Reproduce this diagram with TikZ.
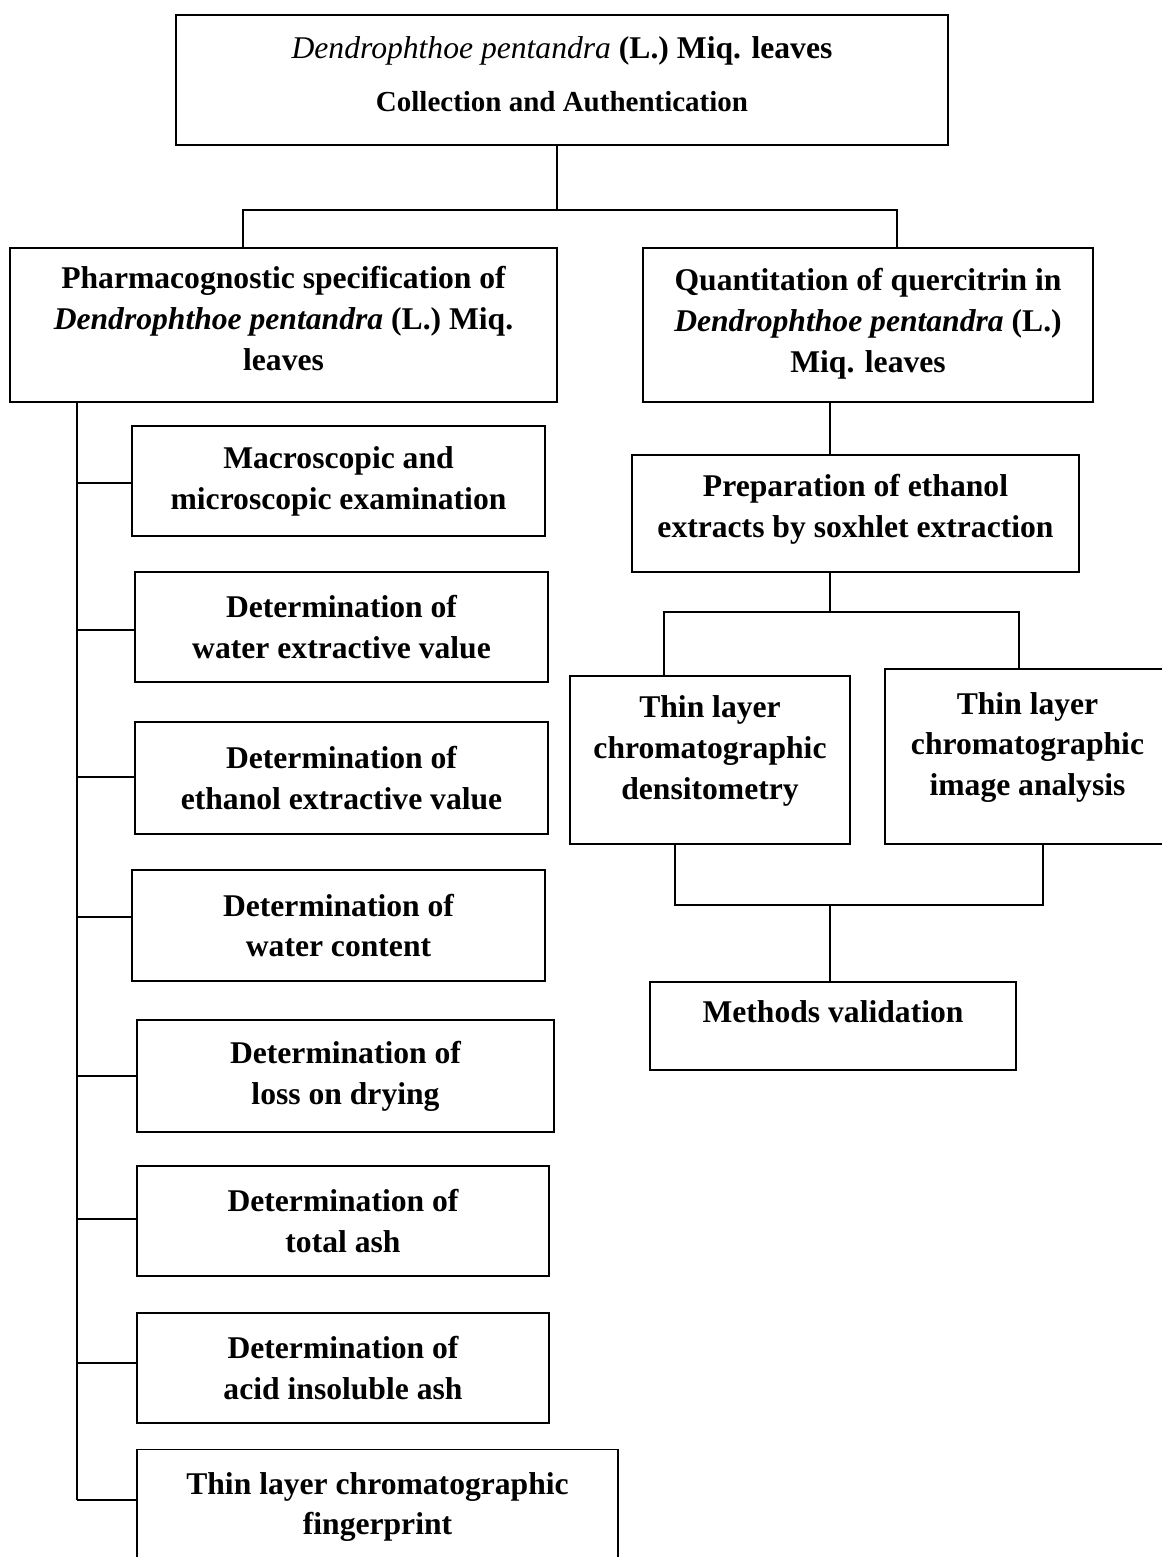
\documentclass[tikz,border=0pt]{standalone}
\usepackage{fontspec}
\setmainfont{Liberation Serif}
\usetikzlibrary{positioning,calc}

\begin{document}
\begin{tikzpicture}[
    x=0.02cm, y=-0.02cm,
    box/.style={rectangle, draw, line width=1.1pt, inner sep=0pt, align=center, font=\fontsize{18}{23.3}\selectfont\bfseries},
    testbox/.style={box, minimum width=8.26cm, minimum height=2.2cm},
    link/.style={line width=1.1pt},
]
    \useasboundingbox (0,0) rectangle (1161,1557);

    % top and the two branches
    \node[box, minimum width=15.44cm, minimum height=2.6cm, text depth=0.24cm] (source) at (562,80) {{\mdseries\itshape Dendrophthoe pentandra} (L.) Miq. leaves\\[6.6pt] {\fontsize{16.5}{20}\selectfont Collection and Authentication}};
    \node[box, minimum width=10.94cm, minimum height=3.08cm, text depth=0.28cm] (pharma) at (283.5,325) {Pharmacognostic specification of\\ \textit{Dendrophthoe pentandra} (L.) Miq.\\ leaves};
    \node[box, minimum width=9cm, minimum height=3.08cm, text depth=0.2cm] (quant) at (868,325) {Quantitation of quercitrin in\\ \textit{Dendrophthoe pentandra} (L.)\\ Miq. leaves};

    % pharmacognostic tests
    \node[testbox] (macro) at (338.5,481) {Macroscopic and\\ microscopic examination};
    \node[testbox] (waterext) at (341.5,627) {Determination of\\ water extractive value};
    \node[testbox, minimum height=2.24cm] (ethext) at (341.5,778) {Determination of\\ ethanol extractive value};
    \node[testbox, minimum height=2.22cm] (watercont) at (338.5,925.5) {Determination of\\ water content};
    \node[testbox, minimum width=8.34cm, minimum height=2.24cm] (lod) at (345.5,1076) {Determination of\\ loss on drying};
    \node[testbox, minimum width=8.24cm] (ash) at (343,1221) {Determination of\\ total ash};
    \node[testbox, minimum width=8.24cm] (acidash) at (343,1368) {Determination of\\ acid insoluble ash};
    \node[testbox, minimum width=9.62cm, minimum height=2.3cm] (fp) at (377.5,1507) {Thin layer chromatographic\\ fingerprint};

    % quercitrin branch
    \node[box, minimum width=8.94cm, minimum height=2.34cm, text depth=0.32cm] (extract) at (855.5,513.5) {Preparation of ethanol\\ extracts by soxhlet extraction};
    \node[box, minimum width=5.6cm, minimum height=3.36cm, text depth=0.5cm] (tlcd) at (710,760) {Thin layer\\ chromatographic\\ densitometry};
    \node[box, minimum width=5.7cm, minimum height=3.5cm, text depth=0.5cm] (tlci) at (1027.5,756.5) {Thin layer\\ chromatographic\\ image analysis};
    \node[box, minimum width=7.32cm, minimum height=1.76cm, text depth=0.56cm] (valid) at (833,1026) {Methods validation};

    % connectors
    \coordinate (trunk) at (557,210);
    \coordinate (busL) at (243,210);
    \coordinate (busR) at (897,210);
    \draw[link] (source.south -| trunk) -- (trunk);
    \draw[link] (pharma.north -| busL) -- (busL) -- (busR) -- (quant.north -| busR);

    \coordinate (spine) at (77,1500);
    \draw[link] (pharma.south -| spine) -- (spine);
    \foreach \n/\y in {macro/483,waterext/630,ethext/777,watercont/917,lod/1076,ash/1219,acidash/1363,fp/1500}
        \draw[link] (77,\y) -- (\n.west |- 0,\y);

    \coordinate (qx) at (830,0);
    \coordinate (busTL) at (664,612);
    \coordinate (busTR) at (1019,612);
    \coordinate (busBL) at (675,905);
    \coordinate (busBR) at (1043,905);
    \draw[link] (quant.south -| qx) -- (extract.north -| qx);
    \draw[link] (extract.south -| qx) -- (qx |- busTL);
    \draw[link] (tlcd.north -| busTL) -- (busTL) -- (busTR) -- (tlci.north -| busTR);
    \draw[link] (tlcd.south -| busBL) -- (busBL) -- (busBR) -- (tlci.south -| busBR);
    \draw[link] (qx |- busBL) -- (valid.north -| qx);
\end{tikzpicture}
\end{document}
